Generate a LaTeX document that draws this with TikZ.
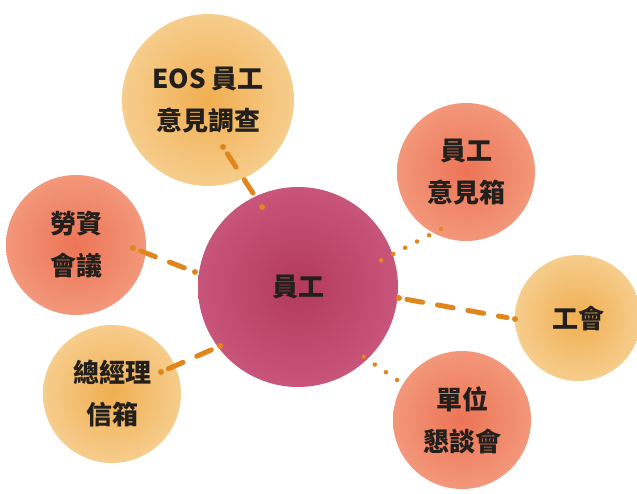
\documentclass[tikz,border=0pt]{standalone}
\usepackage{fontspec}
\setmainfont{Noto Sans CJK TC}
\definecolor{conn}{HTML}{E0861C}
\definecolor{txt}{HTML}{231F1C}
\definecolor{crimIn}{HTML}{B23A5A}
\definecolor{crimOut}{HTML}{C8557A}
\definecolor{orgIn}{HTML}{EC7455}
\definecolor{orgOut}{HTML}{F3977A}
\definecolor{yelIn}{HTML}{F0AE50}
\definecolor{yelOut}{HTML}{F6CD8C}
\tikzset{
  bub/.style={circle, inner sep=0pt, text=txt, align=center,
    font=\bfseries\fontsize{26}{42}\selectfont},
  crim/.style={bub, inner color=crimIn, outer color=crimOut},
  org/.style={bub, inner color=orgIn, outer color=orgOut},
  yel/.style={bub, inner color=yelIn, outer color=yelOut},
  dashconn/.style={draw=conn, line width=5pt, line cap=round,
    dash pattern=on 16pt off 15pt, shorten <=8pt, shorten >=8pt},
  dotconn/.style={draw=conn, line width=4.5pt, line cap=round,
    dash pattern=on 0pt off 13.5pt},
  enddot/.style={fill=conn}
}
\begin{document}
\begin{tikzpicture}[x=1pt,y=-1pt]
\useasboundingbox (0,0) rectangle (637,494);
% bubbles
\node[crim, minimum size=200pt] (emp) at (298,287) {員工};
\node[yel, minimum size=172pt] (eos) at (208,100) {EOS 員工\\意見調查};
\node[org, minimum size=138pt] (box) at (466,172) {員工\\意見箱};
\node[org, minimum size=140pt] (labor) at (76,245) {勞資\\會議};
\node[yel, minimum size=126pt] (union) at (578,318) {工會};
\node[yel, minimum size=138pt] (gm) at (112,394) {總經理\\信箱};
\node[org, minimum size=138pt] (unit) at (462,420) {單位\\懇談會};
% connector end points
\coordinate (eosA) at (223,147);
\coordinate (eosB) at (262,207);
\coordinate (labA) at (133,248);
\coordinate (labB) at (195,272);
\coordinate (gmA) at (161,372);
\coordinate (gmB) at (220,346);
\coordinate (unA) at (515,319);
\coordinate (unB) at (399,298);
\coordinate (boxA) at (441,229);
\coordinate (boxB) at (374,264);
\coordinate (unitA) at (397,380);
\coordinate (unitB) at (357,352);
% dashed connectors
\draw[dashconn] (eosA) -- (eosB);
\draw[dashconn] (labA) -- (labB);
\draw[dashconn] (gmA) -- (gmB);
\draw[dashconn] (unB) -- (unA);
\foreach \p in {eosA,eosB,labA,labB,gmA,gmB,unA,unB}
  \fill[enddot] (\p) circle (3pt);
% dotted connectors
\draw[dotconn] (boxA) -- (boxB);
\draw[dotconn] (unitA) -- (unitB);
\end{tikzpicture}
\end{document}
